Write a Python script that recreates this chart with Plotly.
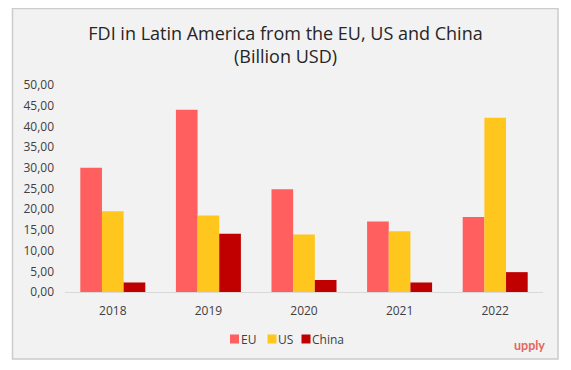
import plotly.graph_objects as go

years = ["2018", "2019", "2020", "2021", "2022"]
eu = [30.0, 44.0, 24.8, 17.0, 18.1]
us = [19.5, 18.5, 13.9, 14.7, 42.1]
china = [2.3, 14.1, 2.9, 2.3, 4.8]

series_names = ["EU", "US", "China"]
series_colors = ["#FF5F5F", "#FFC61E", "#C00000"]

# page body has an 8px margin; positions below are in window pixels
OFF = 8
WIN_W, WIN_H = 571, 370
PL, PR, PT, PB = 65, 543, 85, 292

def px_x(x):
    return (x - PL) / (PR - PL)

def px_y(y):
    return (PB - y) / (PB - PT)

fig = go.Figure()
for name, vals, col in zip(series_names, [eu, us, china], series_colors):
    fig.add_bar(x=years, y=vals, name=name, marker_color=col, marker_line_width=0)

W, H = WIN_W - OFF, WIN_H - OFF

shapes = [dict(
    type="rect", xref="paper", yref="paper", layer="below",
    x0=px_x(12.5), x1=px_x(558), y0=px_y(359), y1=px_y(8.5),
    fillcolor="#f2f2f2", line=dict(color="#cccccc", width=1.5),
)]
annotations = [dict(
    text="<b>upply</b>", xref="paper", yref="paper",
    x=px_x(547), y=px_y(345), xanchor="right", yanchor="middle",
    showarrow=False, font=dict(family="Lato", size=12.5, color="#E2665F"),
)]

# legend (compact, as in the reference)
leg_sq_x = [230, 267.5, 301.5]
leg_y = 339
for name, col, sx in zip(series_names, series_colors, leg_sq_x):
    shapes.append(dict(
        type="rect", xref="paper", yref="paper", layer="above",
        x0=px_x(sx), x1=px_x(sx + 9), y0=px_y(leg_y + 4.5), y1=px_y(leg_y - 4.5),
        fillcolor=col, line=dict(width=0),
    ))
    annotations.append(dict(
        text=name, xref="paper", yref="paper",
        x=px_x(sx + 8.5), y=px_y(leg_y), xanchor="left", yanchor="middle",
        showarrow=False, font=dict(family="Open Sans", size=12, color="#404040"),
    ))

fig.update_layout(
    width=W, height=H,
    margin=dict(l=PL - OFF, r=WIN_W - PR, t=PT - OFF, b=WIN_H - PB, pad=0),
    paper_bgcolor="white",
    plot_bgcolor="rgba(0,0,0,0)",
    font=dict(family="Open Sans", size=12, color="#404040"),
    separators=",.",
    barmode="group",
    bargap=0.32,
    bargroupgap=0,
    title=dict(
        text="FDI in Latin America from the EU, US and China<br>(Billion USD)",
        x=(285.5 - OFF) / W, xref="container", xanchor="center",
        y=1 - (39.5 - OFF) / H, yanchor="middle",
        font=dict(family="Open Sans", size=18, color="#262626"),
    ),
    showlegend=False,
    xaxis=dict(
        showgrid=False, showline=True, linecolor="#d9d9d9", linewidth=1,
        ticks="", ticklabelstandoff=8, tickfont=dict(size=12, color="#404040"),
    ),
    yaxis=dict(
        range=[0, 50], dtick=5, tickformat=".2f",
        showgrid=False, zeroline=False, showline=False,
        ticks="", ticklabelstandoff=10,
        tickfont=dict(size=12, color="#404040"),
    ),
    shapes=shapes,
    annotations=annotations,
)

fig.write_html("out.html")
